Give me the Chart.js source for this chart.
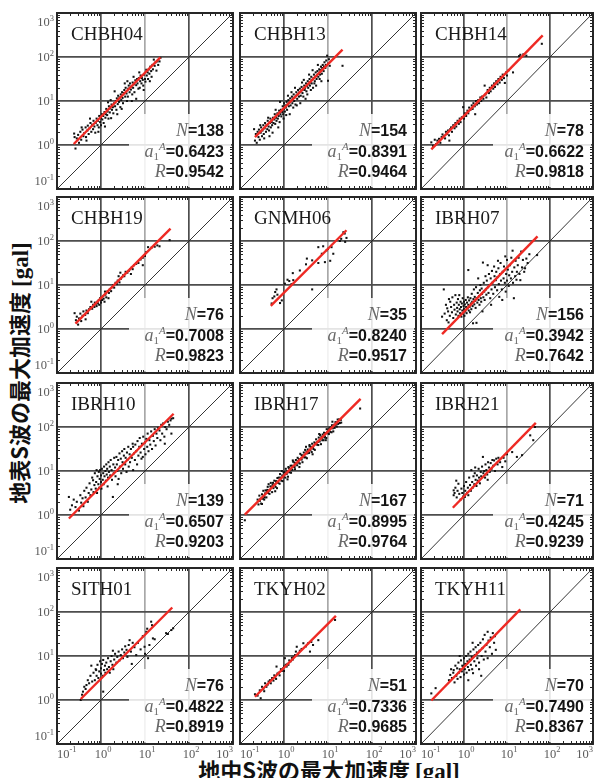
<!DOCTYPE html>
<html>
<head>
<meta charset="utf-8">
<script src="https://cdn.jsdelivr.net/npm/chart.js@4.4.1/dist/chart.umd.min.js"></script>
<style>
  html, body { margin: 0; padding: 0; background: #fff; }
  #fig { position: relative; width: 597px; height: 778px; overflow: hidden; background: #fff; }
  #fig canvas { position: absolute; left: 0; top: 0; }
  .axis-title {
    position: absolute; white-space: nowrap; color: #111;
    font-family: "Noto Sans CJK JP", sans-serif; font-weight: 700; font-size: 22px; line-height: 22px;
  }
  .axis-title .unit { font-family: "Liberation Serif", serif; font-weight: 700; font-size: 23px; }
  #xTitle { left: 0; width: 658px; top: 758px; text-align: center; }
  #yTitle { left: 19px; top: 373px; transform: translate(-50%, -50%) rotate(-90deg); }
</style>
</head>
<body>
<div id="fig">
  <div class="axis-title" id="xTitle">地中S波の最大加速度 <span class="unit">[gal]</span></div>
  <div class="axis-title" id="yTitle">地表S波の最大加速度 <span class="unit">[gal]</span></div>
</div>
<script>
// ---- station summary ----
const STATIONS = ['CHBH04','CHBH13','CHBH14','CHBH19','GNMH06','IBRH07','IBRH10','IBRH17','IBRH21','SITH01','TKYH02','TKYH11'];
const N_RECORDS = [138, 154, 78, 76, 35, 156, 139, 167, 71, 76, 51, 70];
const A1_AMP = [0.6423, 0.8391, 0.6622, 0.7008, 0.8240, 0.3942, 0.6507, 0.8995, 0.4245, 0.4822, 0.7336, 0.7490];
const R_CORR = [0.9542, 0.9464, 0.9818, 0.9823, 0.9517, 0.7642, 0.9203, 0.9764, 0.9239, 0.8919, 0.9685, 0.8367];
// extent of each regression line, log10 of borehole PGA [gal]
const FIT_LOG_X = [[-0.62,1.35],[-0.66,1.33],[-0.76,1.83],[-0.58,1.58],[-0.30,1.42],[-0.51,1.71],
                   [-0.73,1.65],[-0.89,1.74],[-0.26,1.67],[-0.46,1.62],[-0.66,1.18],[-0.76,1.31]];
// decade ticks (exponents of 10)
const DECADE_EXP = [-1, 0, 1, 2, 3];

// ---- records: [log10 borehole PGA, log10 surface PGA] ----
const CHBH04_LOG = [
[-0.61,0.26],[-0.58,-0.08],[-0.6,0.18],[-0.55,0.15],[-0.52,0.23],[-0.5,0.05],[-0.47,0.3],[-0.45,0.12],[-0.42,0.35],[-0.4,0.2],
[-0.38,0.27],[-0.35,0.4],[-0.34,0.18],[-0.31,0.33],[-0.3,0.44],[-0.28,0.25],[-0.26,0.38],[-0.24,0.5],[-0.22,0.3],[-0.2,0.46],
[-0.18,0.36],[-0.17,0.55],[-0.15,0.42],[-0.13,0.28],[-0.12,0.5],[-0.1,0.6],[-0.08,0.45],[-0.07,0.55],[-0.05,0.4],[-0.04,0.66],
[-0.02,0.52],[0.0,0.61],[0.0,0.45],[0.02,0.7],[0.03,0.58],[0.05,0.66],[0.06,0.5],[0.08,0.75],[0.1,0.62],[0.11,0.7],
[0.12,0.82],[0.14,0.68],[0.15,0.76],[0.17,0.6],[0.18,0.88],[0.2,0.74],[0.21,0.83],[0.23,0.61],[0.24,0.92],[0.25,0.8],
[0.27,0.86],[0.28,0.72],[0.3,0.95],[0.31,1.22],[0.32,0.88],[0.34,1.0],[0.35,0.8],[0.36,1.06],[0.38,0.93],[0.39,1.12],
[0.41,0.98],[0.42,1.08],[0.44,0.86],[0.45,1.15],[0.46,1.02],[0.48,1.2],[0.49,1.07],[0.5,0.95],[0.52,1.18],[0.53,1.25],
[0.55,1.1],[0.56,1.3],[0.58,1.17],[0.59,1.0],[0.61,1.1],[0.62,1.28],[0.63,1.35],[0.65,1.2],[0.66,1.4],[0.68,1.26],
[0.69,1.33],[0.71,1.15],[0.72,1.42],[0.73,1.3],[0.75,1.38],[0.76,1.2],[0.78,1.47],[0.8,1.05],[0.8,1.36],[0.82,1.5],
[0.83,1.4],[0.85,1.28],[0.86,1.52],[0.88,1.3],[0.89,1.45],[0.9,1.58],[0.92,1.4],[0.93,1.52],[0.95,1.48],[0.96,1.35],
[0.98,1.6],[1.0,1.5],[1.01,1.44],[1.03,1.71],[1.04,1.58],[1.06,1.65],[1.07,1.5],[1.09,1.72],[1.1,1.62],[1.12,1.78],
[1.14,1.68],[1.15,1.55],[1.17,1.82],[1.18,1.72],[1.2,1.94],[1.22,1.8],[1.24,1.88],[1.26,1.69],[1.28,1.9],[1.3,1.82],
[1.33,1.9],[1.35,1.98],[-0.33,0.1],[-0.44,0.4],[0.09,0.42],[0.22,1.02],[0.47,0.82],[0.6,1.45],[0.74,1.55],[0.97,1.25],
[-0.25,0.6],[0.16,0.97],[0.37,0.7],[0.54,1.4],[0.87,1.65],[1.11,1.45],[0.7,1.0],[-0.06,0.3]];
const CHBH13_LOG = [
[-0.68,0.36],[-0.66,0.1],[-0.64,0.25],[-0.62,0.05],[-0.6,0.3],[-0.58,0.18],[-0.57,0.35],[-0.55,0.12],[-0.53,0.28],[-0.52,0.4],
[-0.5,0.2],[-0.49,0.33],[-0.47,0.45],[-0.46,0.25],[-0.44,0.38],[-0.43,0.5],[-0.41,0.3],[-0.4,0.45],[-0.38,0.36],[-0.37,0.55],
[-0.35,0.42],[-0.34,0.33],[-0.32,0.5],[-0.31,0.6],[-0.3,0.4],[-0.28,0.52],[-0.27,0.45],[-0.25,0.62],[-0.24,0.5],[-0.22,0.58],
[-0.21,0.7],[-0.2,0.48],[-0.18,0.62],[-0.17,0.55],[-0.15,0.72],[-0.14,0.6],[-0.12,0.66],[-0.11,0.78],[-0.1,0.52],[-0.08,0.7],
[-0.07,0.8],[-0.06,0.65],[-0.04,0.75],[-0.03,0.88],[-0.02,0.7],[0.0,0.82],[0.0,0.95],[0.02,0.76],[0.03,0.9],[0.04,0.85],
[0.06,0.98],[0.07,0.8],[0.08,0.92],[0.1,1.02],[0.11,0.88],[0.12,0.96],[0.14,1.06],[0.15,0.9],[0.16,1.0],[0.18,1.1],
[0.19,0.95],[0.2,1.05],[0.22,1.15],[0.23,1.0],[0.24,1.08],[0.26,0.92],[0.27,1.12],[0.28,1.2],[0.3,1.05],[0.31,1.15],
[0.32,1.25],[0.34,1.1],[0.35,1.2],[0.36,1.28],[0.38,1.12],[0.39,1.22],[0.4,1.32],[0.42,1.18],[0.43,1.26],[0.44,1.1],
[0.46,1.35],[0.47,1.25],[0.48,1.3],[0.5,1.4],[0.51,1.22],[0.52,1.34],[0.54,1.45],[0.55,1.3],[0.56,1.38],[0.58,1.5],
[0.59,1.35],[0.6,1.42],[0.62,1.55],[0.63,1.4],[0.64,1.48],[0.66,1.3],[0.67,1.52],[0.68,1.6],[0.7,1.45],[0.71,1.55],
[0.72,1.65],[0.74,1.5],[0.75,1.58],[0.76,1.68],[0.78,1.55],[0.79,1.62],[0.8,1.72],[0.82,1.6],[0.83,1.7],[0.84,1.78],
[0.86,1.62],[0.87,1.75],[0.88,1.82],[0.9,1.68],[0.91,1.78],[0.92,1.88],[0.94,1.75],[0.95,1.82],[0.96,1.92],[0.98,2.03],
[1.0,1.46],[1.0,1.85],[1.02,1.95],[1.04,1.8],[1.33,1.8],[-0.45,0.15],[-0.26,0.28],[-0.09,0.98],[0.13,0.7],[0.25,1.3],
[0.37,0.95],[0.45,1.48],[0.53,1.15],[0.65,1.7],[0.73,1.35],[-0.36,0.62],[0.09,1.12],[0.57,1.6],[-0.19,0.8],[0.85,1.45],
[-0.01,0.6],[0.21,0.85],[0.41,1.42],[0.61,1.25],[0.77,1.82],[-0.33,0.2],[0.17,1.2],[0.49,1.05],[-0.13,0.4],[0.69,1.4],
[0.29,0.9],[0.81,1.5],[-0.54,0.45],[0.05,0.68]];
const CHBH14_LOG = [
[-0.76,0.06],[-0.72,-0.02],[-0.68,0.12],[-0.65,0.02],[-0.62,0.1],[-0.58,0.14],[-0.55,0.05],[-0.52,0.18],[-0.5,0.24],[-0.47,0.2],
[-0.44,0.15],[-0.42,0.3],[-0.4,0.25],[-0.37,0.33],[-0.35,0.22],[-0.32,0.36],[-0.3,0.4],[-0.28,0.3],[-0.25,0.45],[-0.22,0.38],
[-0.2,0.5],[-0.18,0.42],[-0.15,0.55],[-0.12,0.48],[-0.1,0.6],[-0.08,0.52],[-0.05,0.63],[-0.02,0.86],[0.0,0.6],[0.02,0.72],
[0.05,0.66],[0.08,0.78],[0.1,0.72],[0.12,0.85],[0.15,0.8],[0.18,0.9],[0.2,0.82],[0.22,0.95],[0.25,0.88],[0.28,1.0],
[0.3,0.92],[0.33,1.02],[0.35,0.95],[0.38,1.08],[0.4,1.0],[0.42,1.1],[0.45,1.05],[0.48,1.35],[0.5,1.15],[0.52,1.08],
[0.55,1.25],[0.58,1.18],[0.6,1.3],[0.62,1.22],[0.65,1.35],[0.68,1.28],[0.7,1.4],[0.72,1.32],[0.75,1.45],[0.78,1.38],
[0.8,1.5],[0.83,1.42],[0.85,1.55],[0.88,1.48],[0.9,1.6],[0.93,1.52],[0.95,1.41],[0.98,1.65],[1.0,1.58],[1.04,1.7],
[1.14,1.65],[1.28,2.02],[1.31,2.05],[1.45,2.03],[1.38,2.06],[1.81,2.30],[0.26,0.7],[-0.34,0.1]];
const CHBH19_LOG = [
[-0.6,0.36],[-0.57,0.2],[-0.55,0.28],[-0.52,0.1],[-0.5,0.24],[-0.47,0.35],[-0.45,0.18],[-0.42,0.3],[-0.4,0.4],[-0.36,0.32],
[-0.33,0.42],[-0.3,0.36],[-0.27,0.45],[-0.24,0.5],[-0.2,0.46],[-0.18,0.55],[-0.15,0.5],[-0.14,0.6],[-0.12,0.56],[-0.1,0.52],
[-0.08,0.62],[-0.07,0.58],[-0.05,0.66],[-0.04,0.55],[-0.02,0.7],[0.0,0.65],[0.0,0.6],[0.02,0.72],[0.03,0.66],[0.05,0.75],
[0.06,0.69],[0.08,0.62],[0.1,0.78],[0.12,0.72],[0.15,0.86],[0.18,0.82],[0.2,0.9],[0.23,0.86],[0.26,0.95],[0.28,1.0],
[0.3,0.94],[0.33,1.05],[0.36,1.02],[0.38,1.1],[0.4,1.2],[0.42,1.06],[0.45,1.14],[0.48,1.18],[0.5,1.22],[0.53,1.2],
[0.56,1.3],[0.6,1.28],[0.63,1.32],[0.66,1.36],[0.7,1.4],[0.72,1.36],[0.75,1.45],[0.8,1.48],[0.85,1.5],[0.9,1.58],
[0.95,1.45],[0.95,1.62],[1.0,1.66],[1.03,1.75],[1.07,1.86],[1.15,1.85],[1.22,1.87],[1.28,1.9],[1.33,1.88],[1.56,2.02],
[-0.22,0.62],[0.17,0.7],[0.44,1.28],[-0.35,0.22],[0.68,1.25],[0.09,0.85]];
const GNMH06_LOG = [
[-0.28,0.58],[-0.09,0.59],[-0.2,0.84],[-0.17,0.9],[-0.22,0.74],[0.02,1.03],[0.12,1.09],[0.21,1.11],[0.2,1.27],[0.36,1.33],
[0.5,1.47],[0.64,1.56],[0.64,0.9],[0.78,1.5],[0.86,1.71],[0.93,1.52],[0.97,1.79],[1.05,1.55],[1.08,1.86],[1.12,1.71],
[1.27,2.0],[1.35,2.2],[1.39,1.98],[1.42,2.07],[-0.26,0.7],[-0.15,0.78],[-0.05,0.65],[0.08,1.12],[0.17,1.02],[0.52,1.6],
[0.78,1.86],[0.89,1.88],[1.0,1.82],[1.3,2.05],[1.38,2.17]];
const IBRH07_LOG = [
[-0.51,0.28],[-0.47,0.9],[-0.45,0.35],[-0.42,0.55],[-0.4,0.2],[-0.39,0.47],[-0.37,0.4],[-0.35,0.68],[-0.33,0.3],[-0.32,0.62],
[-0.3,0.5],[-0.28,0.38],[-0.27,0.72],[-0.25,0.25],[-0.23,0.55],[-0.22,0.44],[-0.2,0.77],[-0.19,0.33],[-0.17,0.6],[-0.16,0.48],
[-0.15,0.4],[-0.14,0.68],[-0.13,0.3],[-0.12,0.55],[-0.11,0.77],[-0.1,0.45],[-0.09,0.36],[-0.08,0.62],[-0.07,0.5],[-0.06,0.28],
[-0.05,0.58],[-0.04,0.42],[-0.03,0.7],[-0.02,0.35],[-0.01,0.52],[0.0,0.62],[0.0,0.45],[0.01,0.3],[0.02,0.56],[0.03,0.4],
[0.04,0.66],[0.05,0.5],[0.06,0.36],[0.07,0.6],[0.08,0.47],[0.09,0.72],[0.1,1.34],[0.1,0.55],[0.11,0.42],[0.12,0.65],
[0.13,0.5],[0.14,0.38],[0.15,0.7],[0.16,0.58],[0.17,0.45],[0.18,0.8],[0.19,0.62],[0.2,0.52],[0.21,0.13],[0.22,0.68],
[0.23,0.9],[0.24,0.56],[0.25,0.73],[0.26,0.64],[0.27,0.48],[0.28,0.95],[0.29,0.14],[0.3,0.7],[0.31,0.6],[0.32,0.82],
[0.33,1.15],[0.34,0.66],[0.35,0.75],[0.36,0.55],[0.37,0.88],[0.38,1.0],[0.39,0.7],[0.4,0.62],[0.41,0.92],[0.42,0.8],
[0.44,1.51],[0.45,0.72],[0.46,1.05],[0.47,0.85],[0.48,0.66],[0.5,1.2],[0.51,0.9],[0.52,0.78],[0.53,1.1],[0.55,1.45],
[0.56,0.95],[0.57,0.82],[0.58,1.25],[0.6,1.0],[0.61,0.7],[0.62,1.15],[0.64,0.9],[0.65,1.32],[0.66,1.05],[0.68,0.8],
[0.7,1.42],[0.71,1.2],[0.72,0.95],[0.74,1.11],[0.75,1.3],[0.77,0.88],[0.78,1.18],[0.8,1.38],[0.81,1.02],[0.82,0.73],
[0.84,1.25],[0.85,1.5],[0.86,1.1],[0.88,0.9],[0.89,0.66],[0.9,1.3],[0.92,1.15],[0.93,1.42],[0.95,1.05],[0.97,0.85],
[0.98,1.25],[1.0,1.57],[1.0,1.1],[1.02,1.35],[1.04,0.98],[1.05,1.22],[1.07,1.45],[1.09,1.15],[1.1,1.62],[1.12,1.3],
[1.14,1.05],[1.16,0.7],[1.17,1.4],[1.19,1.2],[1.2,1.55],[1.22,1.12],[1.23,1.3],[1.25,1.45],[1.27,1.62],[1.29,1.25],
[1.31,1.11],[1.33,1.76],[1.35,1.4],[1.37,1.57],[1.4,1.3],[1.42,1.38],[1.45,1.6],[1.48,1.5],[1.52,1.7],[1.7,1.68],
[-0.36,0.15],[0.43,0.4],[0.63,0.55],[0.79,1.55],[0.96,1.65],[1.13,1.78]];
const IBRH10_LOG = [
[-0.73,0.41],[-0.66,0.22],[-0.62,0.35],[-0.58,0.18],[-0.55,0.3],[-0.5,0.1],[-0.47,0.45],[-0.45,0.28],[-0.42,0.38],[-0.4,0.2],
[-0.38,0.55],[-0.35,0.4],[-0.33,0.62],[-0.3,0.3],[-0.28,0.5],[-0.26,0.72],[-0.24,0.45],[-0.22,0.58],[-0.2,0.85],[-0.18,0.79],
[-0.17,0.52],[-0.15,0.68],[-0.14,0.95],[-0.12,0.6],[-0.11,0.75],[-0.1,1.02],[-0.09,0.5],[-0.08,0.88],[-0.06,0.7],[-0.05,0.98],
[-0.04,0.62],[-0.03,0.82],[-0.02,1.02],[0.0,0.75],[0.0,0.9],[0.01,0.6],[0.02,1.05],[0.04,0.8],[0.05,0.95],[0.06,0.7],
[0.07,1.1],[0.08,0.88],[0.1,1.0],[0.11,0.78],[0.12,1.15],[0.13,0.92],[0.14,1.05],[0.16,0.85],[0.17,1.2],[0.18,0.98],
[0.2,1.1],[0.21,0.9],[0.22,1.25],[0.24,1.02],[0.25,0.8],[0.27,0.41],[0.28,1.15],[0.29,0.95],[0.3,1.3],[0.32,1.08],
[0.33,0.88],[0.35,1.32],[0.36,1.15],[0.37,1.0],[0.39,1.25],[0.4,0.82],[0.42,1.4],[0.43,1.1],[0.45,1.28],[0.46,0.95],
[0.48,1.45],[0.49,1.2],[0.5,1.05],[0.52,1.35],[0.53,1.5],[0.55,1.15],[0.56,1.3],[0.58,0.98],[0.59,1.42],[0.6,1.25],
[0.62,1.55],[0.63,1.1],[0.65,1.38],[0.66,1.2],[0.68,1.5],[0.7,1.3],[0.72,1.62],[0.73,1.02],[0.73,1.55],[0.75,1.4],
[0.77,1.25],[0.78,1.6],[0.8,1.45],[0.82,1.15],[0.83,1.68],[0.85,1.35],[0.87,1.55],[0.88,1.75],[0.9,1.42],[0.92,1.28],
[0.93,1.62],[0.95,1.32],[0.96,1.78],[0.98,1.5],[1.0,1.65],[1.01,1.38],[1.03,1.73],[1.05,1.55],[1.06,1.85],[1.08,1.45],
[1.1,1.7],[1.12,1.6],[1.14,1.9],[1.16,1.5],[1.18,1.8],[1.2,1.68],[1.22,1.95],[1.24,1.58],[1.26,1.85],[1.28,1.75],
[1.3,1.98],[1.33,1.92],[1.35,1.7],[1.37,2.05],[1.39,1.85],[1.41,2.08],[1.44,1.78],[1.46,2.0],[1.49,1.95],[1.52,2.12],
[1.55,2.05],[1.58,2.15],[1.6,1.85],[1.6,2.19],[1.64,2.2],[-0.7,0.12],[0.15,0.65],[0.38,0.7],[1.45,1.62]];
const IBRH17_LOG = [
[-0.6,0.35],[-0.58,0.24],[-0.56,0.44],[-0.55,0.32],[-0.53,0.37],[-0.52,0.26],[-0.5,0.47],[-0.48,0.37],[-0.47,0.55],[-0.45,0.35],
[-0.44,0.4],[-0.42,0.56],[-0.4,0.4],[-0.39,0.54],[-0.37,0.64],[-0.36,0.5],[-0.34,0.56],[-0.33,0.48],[-0.31,0.65],[-0.3,0.73],
[-0.28,0.64],[-0.27,0.52],[-0.25,0.73],[-0.24,0.61],[-0.22,0.78],[-0.21,0.69],[-0.19,0.64],[-0.18,0.77],[-0.16,0.61],[-0.15,0.84],
[-0.13,0.73],[-0.12,0.85],[-0.1,0.71],[-0.09,0.93],[-0.07,0.84],[-0.06,0.78],[-0.04,0.9],[-0.03,0.77],[-0.01,0.97],[0.0,0.88],
[0.01,0.97],[0.03,0.85],[0.04,1.05],[0.06,0.93],[0.07,0.99],[0.09,0.87],[0.1,1.09],[0.12,0.97],[0.13,1.03],[0.15,1.12],
[0.16,0.96],[0.18,1.12],[0.19,1.03],[0.21,1.21],[0.22,1.1],[0.24,1.19],[0.25,1.04],[0.27,1.25],[0.28,1.18],[0.3,1.13],
[0.31,1.3],[0.33,1.19],[0.34,1.27],[0.36,1.17],[0.37,1.39],[0.39,1.28],[0.4,1.36],[0.42,1.2],[0.43,1.35],[0.45,1.42],
[0.46,1.31],[0.48,1.48],[0.49,1.31],[0.51,1.44],[0.52,1.29],[0.54,1.49],[0.55,1.45],[0.57,1.41],[0.58,1.59],[0.6,1.47],
[0.61,1.55],[0.63,1.43],[0.64,1.62],[0.66,1.54],[0.67,1.5],[0.69,1.65],[0.7,1.48],[0.72,1.63],[0.73,1.72],[0.75,1.6],
[0.76,1.66],[0.78,1.59],[0.79,1.76],[0.81,1.67],[0.82,1.82],[0.84,1.61],[0.85,1.78],[0.87,1.7],[0.88,1.83],[0.9,1.7],
[0.91,1.87],[0.93,1.78],[0.94,1.86],[0.96,1.75],[0.97,1.95],[0.99,1.86],[1.0,1.9],[1.02,1.84],[1.03,1.97],[1.05,1.89],
[1.06,1.99],[1.08,1.88],[1.09,2.04],[1.11,1.97],[1.12,1.9],[1.14,2.05],[1.15,1.98],[1.17,2.11],[1.18,2.06],[1.2,2.01],
[1.21,2.11],[1.23,2.07],[1.25,2.17],[1.27,2.09],[1.29,2.16],[1.3,2.1],[-0.89,-0.12],[1.73,2.42],[-0.5,0.25],[-0.35,0.7],
[-0.2,0.54],[-0.05,1.0],[0.08,0.81],[0.2,1.24],[0.35,1.09],[0.5,1.55],[0.65,1.38],[0.8,1.84],[0.95,1.7],[1.1,2.12],
[-0.55,0.35],[-0.43,0.49],[-0.32,0.56],[-0.17,0.73],[0.05,0.96],[0.26,1.15],[0.44,1.34],[0.62,1.54],[0.77,1.66],[0.98,1.88],
[-0.08,0.85],[0.14,1.02],[0.32,1.23],[0.53,1.4],[0.71,1.63],[0.86,1.75],[1.01,1.94],[1.16,2.04],[-0.26,0.68],[0.4,1.26],
[0.58,1.56],[0.92,1.76],[-0.38,0.57],[0.11,1.07],[0.24,1.09],[1.22,2.17],[-0.46,0.42]];
const IBRH21_LOG = [
[-0.24,0.56],[-0.24,0.45],[-0.22,0.5],[-0.2,0.62],[-0.17,0.4],[-0.15,0.55],[-0.13,0.71],[-0.11,0.48],[-0.08,0.35],[-0.06,0.6],
[-0.04,0.5],[-0.02,0.42],[0.0,0.66],[0.02,0.41],[0.03,0.55],[0.05,0.75],[0.07,0.5],[0.09,0.62],[0.1,0.45],[0.12,0.85],
[0.14,0.68],[0.16,0.55],[0.17,1.02],[0.19,0.75],[0.2,0.62],[0.22,0.88],[0.24,0.7],[0.25,0.95],[0.27,0.8],[0.29,0.66],
[0.3,0.9],[0.32,0.78],[0.34,1.05],[0.35,0.85],[0.37,0.72],[0.39,0.98],[0.4,0.88],[0.42,1.1],[0.44,1.32],[0.45,0.95],
[0.47,1.0],[0.49,0.85],[0.5,1.15],[0.52,1.02],[0.54,0.92],[0.56,1.2],[0.58,1.08],[0.6,0.98],[0.62,1.18],[0.64,1.05],
[0.66,1.25],[0.68,1.12],[0.7,1.24],[0.72,1.0],[0.75,1.28],[0.78,1.15],[0.8,1.3],[0.84,1.2],[0.89,1.09],[0.92,1.3],
[0.96,1.22],[1.0,1.38],[1.12,1.43],[1.23,1.32],[1.35,1.36],[1.54,1.81],[1.61,1.7],[1.65,2.0],[0.55,0.8],[-0.18,0.78],
[0.26,1.08]];
const SITH01_LOG = [
[-0.46,0.0],[-0.43,0.12],[-0.41,0.19],[-0.38,0.3],[-0.35,0.25],[-0.33,0.34],[-0.3,0.45],[-0.27,0.38],[-0.24,0.55],[-0.2,0.42],
[-0.17,0.62],[-0.14,0.45],[-0.12,0.7],[-0.11,0.68],[-0.1,0.55],[-0.08,0.8],[-0.06,0.5],[-0.04,0.65],[-0.02,0.88],[0.0,0.6],
[0.0,0.72],[0.02,0.82],[0.04,0.55],[0.05,0.91],[0.05,0.19],[0.07,0.68],[0.09,0.78],[0.1,0.62],[0.12,0.85],[0.14,0.7],
[0.16,0.95],[0.18,0.75],[0.2,0.62],[0.22,0.88],[0.24,1.0],[0.26,0.8],[0.28,0.7],[0.3,0.92],[0.32,1.05],[0.35,0.85],
[0.37,0.98],[0.4,1.1],[0.42,0.9],[0.45,1.02],[0.48,1.15],[0.5,0.95],[0.53,1.08],[0.55,1.22],[0.58,1.14],[0.6,0.98],
[0.63,1.25],[0.65,1.36],[0.68,1.1],[0.72,1.3],[0.76,1.2],[0.8,1.02],[0.84,1.3],[0.9,1.15],[0.95,1.45],[0.99,1.21],
[1.0,1.05],[1.03,1.55],[1.05,1.62],[1.07,0.95],[1.1,1.25],[1.14,1.78],[1.16,1.7],[1.18,1.4],[1.22,1.38],[1.48,1.52],
[1.52,1.5],[1.6,1.59],[1.64,1.63],[0.7,0.82],[-0.22,0.78],[0.27,1.12]];
const TKYH02_LOG = [
[-0.66,0.13],[-0.6,0.1],[-0.55,0.22],[-0.53,0.04],[-0.5,0.3],[-0.47,0.25],[-0.45,0.2],[-0.43,0.38],[-0.4,0.3],[-0.37,0.35],
[-0.35,0.42],[-0.32,0.45],[-0.3,0.38],[-0.27,0.5],[-0.24,0.44],[-0.22,0.56],[-0.2,0.53],[-0.18,0.48],[-0.17,0.76],[-0.15,0.6],
[-0.12,0.62],[-0.1,0.56],[-0.07,0.7],[-0.05,0.66],[-0.02,0.72],[0.0,0.76],[0.0,0.66],[0.02,0.95],[0.04,0.8],[0.06,0.76],
[0.08,0.82],[0.1,0.8],[0.12,0.9],[0.15,0.88],[0.18,0.96],[0.2,0.92],[0.25,1.02],[0.27,1.1],[0.29,1.21],[0.32,1.05],
[0.36,1.12],[0.4,1.16],[0.44,1.29],[0.5,1.22],[0.55,1.29],[0.59,1.1],[0.62,1.32],[0.66,1.25],[0.78,1.36],[1.16,1.82],
[0.22,0.98]];
const TKYH11_LOG = [
[-0.76,0.15],[-0.66,0.27],[-0.35,0.45],[-0.32,0.57],[-0.3,0.7],[-0.28,0.5],[-0.25,0.62],[-0.24,0.68],[-0.22,0.4],[-0.2,0.78],
[-0.18,0.55],[-0.16,0.72],[-0.15,0.48],[-0.13,0.85],[-0.12,0.62],[-0.1,0.7],[-0.08,0.52],[-0.07,0.9],[-0.05,0.65],[-0.04,0.78],
[-0.02,0.76],[0.0,0.58],[0.0,0.95],[0.02,0.7],[0.03,0.82],[0.05,1.0],[0.06,0.62],[0.08,0.88],[0.09,0.75],[0.1,1.05],
[0.12,0.68],[0.13,0.92],[0.15,1.1],[0.16,0.8],[0.18,0.98],[0.19,0.7],[0.21,0.61],[0.22,1.15],[0.24,0.88],[0.25,1.02],
[0.27,1.2],[0.28,0.78],[0.3,1.08],[0.31,0.95],[0.33,1.25],[0.35,0.85],[0.36,1.12],[0.38,1.3],[0.4,0.55],[0.41,1.0],
[0.43,1.18],[0.44,1.38],[0.46,0.92],[0.48,1.48],[0.5,1.1],[0.52,1.25],[0.55,0.95],[0.57,1.35],[0.6,1.2],[0.62,1.42],
[0.65,1.05],[0.67,1.52],[0.7,1.3],[0.74,1.14],[0.72,1.45],[0.1,0.45],[-0.1,1.0],[0.2,1.3],[0.35,0.7],[0.55,1.55]];

const SERIES = [CHBH04_LOG, CHBH13_LOG, CHBH14_LOG, CHBH19_LOG, GNMH06_LOG, IBRH07_LOG,
                IBRH10_LOG, IBRH17_LOG, IBRH21_LOG, SITH01_LOG, TKYH02_LOG, TKYH11_LOG];

// ---- layout ----
const PAGE_W = 597, PAGE_H = 778;
const COL_LEFT = [57, 240, 421];
const ROW_TOP = [13, 197, 383, 568];
const PANEL = 176;
const AXIS_MIN = Math.pow(10, DECADE_EXP[0]);
const AXIS_MAX = Math.pow(10, DECADE_EXP[DECADE_EXP.length - 1]);

const GRID_COLOR = '#4d4d4d';
const GRID_LIGHT = '#a8a8a8';
const FRAME_COLOR = '#262626';
const LABEL_GRAY = '#5a5a5a';
const SERIF = '"Liberation Serif", "DejaVu Serif", serif';
const SANS = '"Liberation Sans", Arial, sans-serif';

function decadeTicks(scale) {
  scale.ticks = DECADE_EXP.map(e => ({ value: Math.pow(10, e) }));
}

// a line of mixed-font runs, right aligned at x
function drawRuns(ctx, runs, rightX, baseline) {
  let w = 0;
  runs.forEach(r => { ctx.font = r.font; r.w = ctx.measureText(r.text).width; w += r.w; });
  let x = rightX - w;
  runs.forEach(r => {
    ctx.font = r.font; ctx.fillStyle = r.color;
    ctx.fillText(r.text, x, baseline + (r.dy || 0));
    x += r.w;
  });
}

// "10" with a raised exponent; returns the two widths
function powerLabel(ctx, exp, x, baseline, measureOnly) {
  const base = '10', sup = String(exp);
  ctx.font = '12.5px ' + SERIF;
  const wb = ctx.measureText(base).width;
  ctx.font = '8.5px ' + SERIF;
  const ws = ctx.measureText(sup).width;
  if (!measureOnly) {
    ctx.fillStyle = LABEL_GRAY;
    ctx.font = '12.5px ' + SERIF;
    ctx.fillText(base, x, baseline);
    ctx.font = '8.5px ' + SERIF;
    ctx.fillText(sup, x + wb, baseline - 5.5);
  }
  return { wb, ws };
}

const panelDecor = {
  id: 'panelDecor',
  beforeDatasetsDraw(chart, args, opts) {
    const { ctx, chartArea: a } = chart;
    // white backing behind the statistics block
    ctx.save();
    ctx.fillStyle = 'rgba(255,255,255,0.85)';
    ctx.fillRect(a.left + 72, a.top + 101, a.right - a.left - 74, a.bottom - a.top - 103);
    ctx.restore();
  },
  afterDraw(chart, args, opts) {
    const { ctx, chartArea: a, scales } = chart;
    const xs = scales.x, ys = scales.y;
    const i = opts.index;
    ctx.save();

    // minor ticks, pointing inward on all four sides
    ctx.strokeStyle = FRAME_COLOR; ctx.lineWidth = 1;
    ctx.beginPath();
    for (let k = 0; k < DECADE_EXP.length - 1; k++) {
      for (let m = 2; m <= 9; m++) {
        const v = m * Math.pow(10, DECADE_EXP[k]);
        const px = Math.round(xs.getPixelForValue(v)) + 0.5;
        const py = Math.round(ys.getPixelForValue(v)) + 0.5;
        ctx.moveTo(px, a.bottom); ctx.lineTo(px, a.bottom - 3);
        ctx.moveTo(px, a.top); ctx.lineTo(px, a.top + 3);
        ctx.moveTo(a.left, py); ctx.lineTo(a.left + 3, py);
        ctx.moveTo(a.right, py); ctx.lineTo(a.right - 3, py);
      }
    }
    ctx.stroke();

    // station name
    ctx.fillStyle = '#1a1a1a';
    ctx.font = '19px ' + SERIF;
    ctx.textBaseline = 'alphabetic';
    ctx.fillText(STATIONS[i], a.left + 14, a.top + 27);

    // statistics
    const it = 'italic 18px ' + SERIF, bold = 'bold 16px ' + SANS, dark = '#141414';
    const rx = a.right - 9;
    drawRuns(ctx, [{ text: 'N', font: it, color: '#6a6a6a' },
                   { text: '=' + N_RECORDS[i], font: bold, color: dark }], rx, a.top + 123);
    drawRuns(ctx, [{ text: 'a', font: it, color: '#6a6a6a' },
                   { text: '1', font: '11px ' + SERIF, color: '#6a6a6a', dy: 3 },
                   { text: 'A', font: 'italic 11px ' + SERIF, color: '#6a6a6a', dy: -7 },
                   { text: '=' + A1_AMP[i].toFixed(4), font: bold, color: dark }], rx, a.top + 144);
    drawRuns(ctx, [{ text: 'R', font: it, color: '#6a6a6a' },
                   { text: '=' + R_CORR[i].toFixed(4), font: bold, color: dark }], rx, a.top + 164);

    // decade labels on the outer panels
    if (opts.leftColumn) {
      DECADE_EXP.forEach(e => {
        const py = ys.getPixelForValue(Math.pow(10, e));
        const m = powerLabel(ctx, e, 0, 0, true);
        const w = m.wb + m.ws;
        const cy = Math.min(Math.max(py, a.top + 9), a.bottom - 8);
        powerLabel(ctx, e, a.left - 3 - w, cy + 4);
      });
    }
    if (opts.bottomRow) {
      DECADE_EXP.forEach(e => {
        const px = xs.getPixelForValue(Math.pow(10, e));
        const m = powerLabel(ctx, e, 0, 0, true);
        let x0 = px - m.wb / 2;
        x0 = Math.max(x0, a.left);
        x0 = Math.min(x0, a.right - m.wb - m.ws);
        powerLabel(ctx, e, x0, a.bottom + 13.5);
      });
    }
    ctx.restore();
  }
};

function logScale(position, showGrid, gridColor) {
  return {
    type: 'logarithmic', position, min: AXIS_MIN, max: AXIS_MAX,
    afterBuildTicks: decadeTicks,
    ticks: { display: false },
    grid: { display: showGrid, color: gridColor || GRID_COLOR, lineWidth: 1.7, drawTicks: false },
    border: { display: true, color: FRAME_COLOR, width: 2 }
  };
}

// the vertical line at 10 gal prints lighter than the others
const xGridColor = ctx => (ctx.tick && Math.abs(ctx.tick.value - 10) < 1e-9) ? GRID_LIGHT : GRID_COLOR;

const fig = document.getElementById('fig');
STATIONS.forEach((name, i) => {
  const col = i % 3, row = Math.floor(i / 3);
  const left = COL_LEFT[col], top = ROW_TOP[row];
  const canvas = document.createElement('canvas');
  canvas.width = PAGE_W; canvas.height = PAGE_H;
  canvas.style.width = PAGE_W + 'px'; canvas.style.height = PAGE_H + 'px';
  fig.appendChild(canvas);

  const records = SERIES[i].map(([lx, ly]) => ({ x: Math.pow(10, lx), y: Math.pow(10, ly) }));
  const gain = Math.pow(10, A1_AMP[i]);
  const fit = FIT_LOG_X[i].map(lx => ({ x: Math.pow(10, lx), y: Math.pow(10, lx) * gain }));
  const oneToOne = [{ x: AXIS_MIN, y: AXIS_MIN }, { x: AXIS_MAX, y: AXIS_MAX }];

  new Chart(canvas, {
    type: 'scatter',
    data: {
      datasets: [
        { data: oneToOne, showLine: true, borderColor: '#1e1e1e', borderWidth: 0.9, pointRadius: 0, order: 3 },
        { data: records, pointStyle: 'rect', pointRadius: 1.45, backgroundColor: '#111', borderWidth: 0, order: 2 },
        { data: fit, showLine: true, borderColor: '#ee2a24', borderWidth: 2.4, pointRadius: 0, order: 1 }
      ]
    },
    options: {
      responsive: false, animation: false, events: [],
      layout: { padding: { left, top, right: PAGE_W - left - PANEL, bottom: PAGE_H - top - PANEL } },
      plugins: {
        legend: { display: false }, tooltip: { enabled: false },
        panelDecor: { index: i, leftColumn: col === 0, bottomRow: row === 3 }
      },
      scales: {
        x: logScale('bottom', true, xGridColor),
        y: logScale('left', true),
        xTop: logScale('top', false),
        yRight: logScale('right', false)
      }
    },
    plugins: [panelDecor]
  });
});
</script>
</body>
</html>
